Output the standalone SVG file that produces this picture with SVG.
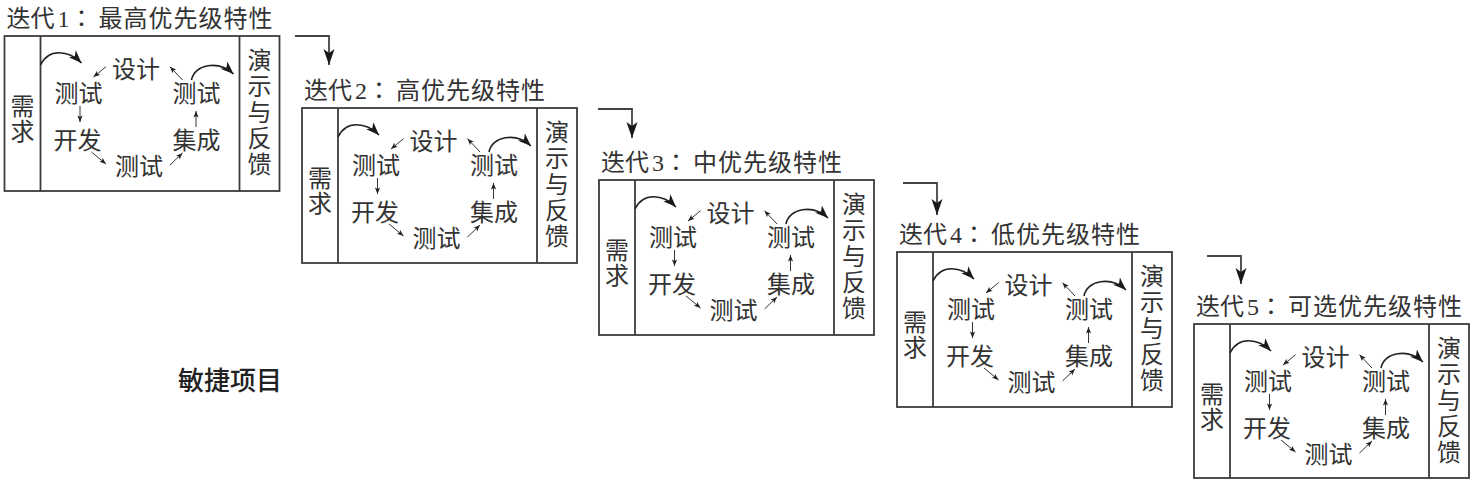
<svg xmlns="http://www.w3.org/2000/svg" width="1477" height="484" viewBox="0 0 1477 484">
<style>
  .frame { fill: #fff; stroke: #3c3c3c; stroke-width: 1.8; }
  .div { stroke: #3c3c3c; stroke-width: 1.8; fill: none; }
  .t { font-family: "Noto Sans CJK SC", sans-serif; font-size: 24px; fill: #333; text-anchor: middle; }
  .v { font-family: "Noto Sans CJK SC", sans-serif; font-size: 24px; fill: #333; writing-mode: vertical-rl; text-anchor: start; }
  .tt { font-family: "Noto Sans CJK SC", sans-serif; font-size: 24px; fill: #333; }
  .dg { font-family: "Liberation Serif", serif; font-size: 24px; fill: #333; }
  .col { font-family: "Noto Sans CJK TC", sans-serif; font-size: 24px; fill: #333; }
  .curve { fill: none; stroke: #222; stroke-width: 1.6; marker-end: url(#mid); }
  .small { fill: none; stroke: #333; stroke-width: 1; marker-end: url(#sm); }
  .conn { fill: none; stroke: #444; stroke-width: 1.8; marker-end: url(#big); }
  .lbl { font-family: "Noto Sans CJK SC", sans-serif; font-size: 26px; font-weight: 500; fill: #222; }
</style>
<defs>
  <marker id="big" markerUnits="userSpaceOnUse" markerWidth="18" markerHeight="12" viewBox="-17 -6 18 12" refX="0" refY="0" orient="auto">
    <path d="M0,0 L-16,-5.5 L-12,0 L-16,5.5 Z" fill="#1a1a1a"/>
  </marker>
  <marker id="mid" markerUnits="userSpaceOnUse" markerWidth="15" markerHeight="11" viewBox="-14 -5.5 15 11" refX="0" refY="0" orient="auto">
    <path d="M0,0 L-13,-5 L-9.5,0 L-13,5 Z" fill="#1a1a1a"/>
  </marker>
  <marker id="sm" markerUnits="userSpaceOnUse" markerWidth="8" markerHeight="6" viewBox="-7 -3 8 6" refX="0" refY="0" orient="auto">
    <path d="M0,0 L-6.5,-2.6 L-5,0 L-6.5,2.6 Z" fill="#222"/>
  </marker>
</defs>
<rect width="1477" height="484" fill="#fff"/>

<g id="iter1" transform="translate(4.5,36)">
  <text class="tt" y="-9.5"><tspan x="2">迭代</tspan><tspan class="dg" x="53">1</tspan><tspan class="col" x="65">：</tspan><tspan x="94" letter-spacing="1">最高优先级特性</tspan></text>
  <rect class="frame" x="0" y="0" width="275" height="155"/>
  <path class="div" d="M36,0 V155 M235,0 V155"/>
  <text class="v" x="18" y="58" letter-spacing="1">需求</text>
  <text class="v" x="255" y="12" letter-spacing="2">演示与反馈</text>
  <text class="t" x="131.5" y="42">设计</text>
  <text class="t" x="74" y="66">测试</text>
  <text class="t" x="73" y="113">开发</text>
  <text class="t" x="134.5" y="139">测试</text>
  <text class="t" x="192" y="113">集成</text>
  <text class="t" x="192" y="66">测试</text>
  <path class="curve" d="M36,29 C44,12 64,14 77,27"/>
  <path class="curve" d="M187,44 C190,28 214,24 229,38"/>
  <path class="small" d="M101.5,30.7 L89,41"/>
  <path class="small" d="M75.5,70 L75.5,86"/>
  <path class="small" d="M87,116 L101.5,128"/>
  <path class="small" d="M165.5,129 L178,117"/>
  <path class="small" d="M191.5,91 L191.5,75"/>
  <path class="small" d="M178,44 L165.5,30.7"/>
</g>

<g id="iter2" transform="translate(302,108)">
  <text class="tt" y="-9.5"><tspan x="2">迭代</tspan><tspan class="dg" x="53">2</tspan><tspan class="col" x="65">：</tspan><tspan x="94" letter-spacing="1">高优先级特性</tspan></text>
  <rect class="frame" x="0" y="0" width="275" height="155"/>
  <path class="div" d="M36,0 V155 M235,0 V155"/>
  <text class="v" x="18" y="58" letter-spacing="1">需求</text>
  <text class="v" x="255" y="12" letter-spacing="2">演示与反馈</text>
  <text class="t" x="131.5" y="42">设计</text>
  <text class="t" x="74" y="66">测试</text>
  <text class="t" x="73" y="113">开发</text>
  <text class="t" x="134.5" y="139">测试</text>
  <text class="t" x="192" y="113">集成</text>
  <text class="t" x="192" y="66">测试</text>
  <path class="curve" d="M36,29 C44,12 64,14 77,27"/>
  <path class="curve" d="M187,44 C190,28 214,24 229,38"/>
  <path class="small" d="M101.5,30.7 L89,41"/>
  <path class="small" d="M75.5,70 L75.5,86"/>
  <path class="small" d="M87,116 L101.5,128"/>
  <path class="small" d="M165.5,129 L178,117"/>
  <path class="small" d="M191.5,91 L191.5,75"/>
  <path class="small" d="M178,44 L165.5,30.7"/>
</g>

<g id="iter3" transform="translate(599,180)">
  <text class="tt" y="-9.5"><tspan x="2">迭代</tspan><tspan class="dg" x="53">3</tspan><tspan class="col" x="65">：</tspan><tspan x="94" letter-spacing="1">中优先级特性</tspan></text>
  <rect class="frame" x="0" y="0" width="275" height="155"/>
  <path class="div" d="M36,0 V155 M235,0 V155"/>
  <text class="v" x="18" y="58" letter-spacing="1">需求</text>
  <text class="v" x="255" y="12" letter-spacing="2">演示与反馈</text>
  <text class="t" x="131.5" y="42">设计</text>
  <text class="t" x="74" y="66">测试</text>
  <text class="t" x="73" y="113">开发</text>
  <text class="t" x="134.5" y="139">测试</text>
  <text class="t" x="192" y="113">集成</text>
  <text class="t" x="192" y="66">测试</text>
  <path class="curve" d="M36,29 C44,12 64,14 77,27"/>
  <path class="curve" d="M187,44 C190,28 214,24 229,38"/>
  <path class="small" d="M101.5,30.7 L89,41"/>
  <path class="small" d="M75.5,70 L75.5,86"/>
  <path class="small" d="M87,116 L101.5,128"/>
  <path class="small" d="M165.5,129 L178,117"/>
  <path class="small" d="M191.5,91 L191.5,75"/>
  <path class="small" d="M178,44 L165.5,30.7"/>
</g>

<g id="iter4" transform="translate(897,252)">
  <text class="tt" y="-9.5"><tspan x="2">迭代</tspan><tspan class="dg" x="53">4</tspan><tspan class="col" x="65">：</tspan><tspan x="94" letter-spacing="1">低优先级特性</tspan></text>
  <rect class="frame" x="0" y="0" width="275" height="155"/>
  <path class="div" d="M36,0 V155 M235,0 V155"/>
  <text class="v" x="18" y="58" letter-spacing="1">需求</text>
  <text class="v" x="255" y="12" letter-spacing="2">演示与反馈</text>
  <text class="t" x="131.5" y="42">设计</text>
  <text class="t" x="74" y="66">测试</text>
  <text class="t" x="73" y="113">开发</text>
  <text class="t" x="134.5" y="139">测试</text>
  <text class="t" x="192" y="113">集成</text>
  <text class="t" x="192" y="66">测试</text>
  <path class="curve" d="M36,29 C44,12 64,14 77,27"/>
  <path class="curve" d="M187,44 C190,28 214,24 229,38"/>
  <path class="small" d="M101.5,30.7 L89,41"/>
  <path class="small" d="M75.5,70 L75.5,86"/>
  <path class="small" d="M87,116 L101.5,128"/>
  <path class="small" d="M165.5,129 L178,117"/>
  <path class="small" d="M191.5,91 L191.5,75"/>
  <path class="small" d="M178,44 L165.5,30.7"/>
</g>

<g id="iter5" transform="translate(1194,324)">
  <text class="tt" y="-9.5"><tspan x="2">迭代</tspan><tspan class="dg" x="53">5</tspan><tspan class="col" x="65">：</tspan><tspan x="94" letter-spacing="1">可选优先级特性</tspan></text>
  <rect class="frame" x="0" y="0" width="275" height="154"/>
  <path class="div" d="M36,0 V154 M235,0 V154"/>
  <text class="v" x="18" y="58" letter-spacing="1">需求</text>
  <text class="v" x="255" y="12" letter-spacing="2">演示与反馈</text>
  <text class="t" x="131.5" y="42">设计</text>
  <text class="t" x="74" y="66">测试</text>
  <text class="t" x="73" y="113">开发</text>
  <text class="t" x="134.5" y="139">测试</text>
  <text class="t" x="192" y="113">集成</text>
  <text class="t" x="192" y="66">测试</text>
  <path class="curve" d="M36,29 C44,12 64,14 77,27"/>
  <path class="curve" d="M187,44 C190,28 214,24 229,38"/>
  <path class="small" d="M101.5,30.7 L89,41"/>
  <path class="small" d="M75.5,70 L75.5,86"/>
  <path class="small" d="M87,116 L101.5,128"/>
  <path class="small" d="M165.5,129 L178,117"/>
  <path class="small" d="M191.5,91 L191.5,75"/>
  <path class="small" d="M178,44 L165.5,30.7"/>
</g>

<g id="connectors">
  <path class="conn" d="M295,36 H329 V65"/>
  <path class="conn" d="M598,109 H632 V138"/>
  <path class="conn" d="M903,183 H937 V215"/>
  <path class="conn" d="M1207,256 H1241 V284"/>
</g>

<g id="label">
  <text class="lbl" x="178" y="390">敏捷项目</text>
</g>
</svg>
